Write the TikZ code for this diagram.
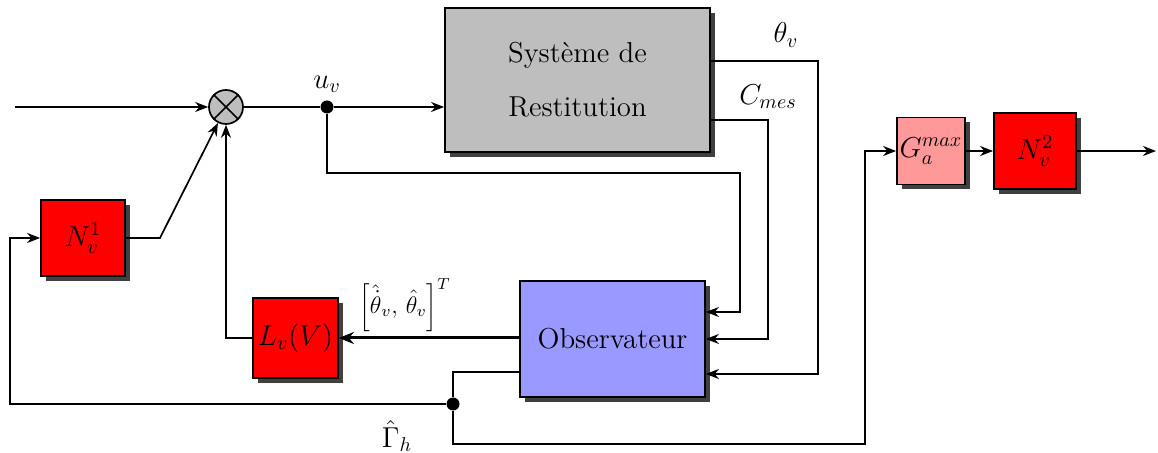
\documentclass[tikz,border=0pt]{standalone}
\usetikzlibrary{arrows.meta,shadows}
\definecolor{sysgray}{RGB}{190,190,190}
\definecolor{obsblue}{RGB}{153,153,255}
\definecolor{pinkred}{RGB}{255,153,153}
\begin{document}
\begin{tikzpicture}[x=0.5pt,y=-0.5pt,
  blk/.style={draw, line width=0.9pt, inner sep=0pt,
    drop shadow={shadow xshift=2.5pt, shadow yshift=-2.5pt, fill=black!75, opacity=1}},
  redblk/.style={blk, fill=red, font=\Large},
  conn/.style={line width=0.85pt},
  arr/.style={conn, -{Stealth[length=6.5pt,width=5pt]}},
  dot/.style={circle, fill, inner sep=0pt, minimum size=6.5pt},
  lbl/.style={font=\Large, inner sep=1pt}]
\useasboundingbox (0,0) rectangle (1158,453);

% blocks
\node[blk, fill=sysgray, minimum width=132.5pt, minimum height=72pt, align=center, font=\Large] (sys) at (577.5,80) {Système de\\[9pt]Restitution};
\node[blk, fill=obsblue, minimum width=92.5pt, minimum height=58pt, font=\Large] (obs) at (612.5,339) {Observateur};
\node[redblk, minimum width=42.5pt, minimum height=40pt] (Lv) at (295.5,338) {$L_v(V)$};
\node[redblk, minimum width=42pt, minimum height=38pt] (N1) at (83,238) {$N_v^1$};
\node[blk, fill=pinkred, font=\Large, minimum width=34pt, minimum height=33.5pt] (Ga) at (931,151) {$G_a^{max}$};
\node[redblk, minimum width=41pt, minimum height=38pt] (N2) at (1035,151) {$N_v^2$};

% multiplier
\node[circle, draw, fill=sysgray, line width=0.85pt, minimum size=17pt, inner sep=0pt] (mult) at (226,107) {};
\draw[conn] (mult.north east) -- (mult.south west) (mult.north west) -- (mult.south east);

% dots
\node[dot] (d1) at (327,107) {};
\node[dot] (d2) at (453,404) {};

% coordinates
\coordinate (in) at (15,107);
\coordinate (th1) at (818,61);
\coordinate (th2) at (818,374);
\coordinate (c1) at (768,120);
\coordinate (c2) at (768,339);
\coordinate (u1) at (327,173);
\coordinate (u2) at (740,173);
\coordinate (u3) at (740,312);
\coordinate (n1) at (160,238);
\coordinate (g0) at (453,372);
\coordinate (g1) at (453,444);
\coordinate (g2) at (865,444);
\coordinate (g3) at (865,151);
\coordinate (f1) at (10,404);
\coordinate (f2) at (10,238);
\coordinate (out) at (1156,151);

% connectors
\draw[arr] (in) -- (mult);
\draw[conn] (mult) -- (d1);
\draw[arr] (d1) -- (d1 -| sys.west);
\draw[arr] (sys.east |- th1) -- (th1) -- (th2) -- (obs.east |- th2);
\draw[arr] (sys.east |- c1) -- (c1) -- (c2) -- (obs.east |- c2);
\draw[arr] (d1) -- (u1) -- (u2) -- (u3) -- (obs.east |- u3);
\draw[line width=1.5pt, -{Stealth[length=7.5pt,width=6pt]}] (obs.west |- Lv.east) -- (Lv.east);
\draw[arr] (Lv.west) -- (Lv.west -| mult) -- (mult.south);
\draw[arr] (N1.east) -- (n1) -- (mult);
\draw[conn] (obs.west |- g0) -- (g0) -- (d2);
\draw[arr] (d2) -- (g1) -- (g2) -- (g3) -- (Ga.west);
\draw[arr] (d2) -- (f1) -- (f2) -- (N1.west);
\draw[arr] (Ga.east) -- (N2.west);
\draw[arr] (N2.east) -- (out);

% labels
\node[lbl] (lu) at (327,84) {$u_v$};
\node[lbl] (lth) at (786,35) {$\theta_v$};
\node[lbl] (lc) at (768,97) {$C_{mes}$};
\node[font=\large, inner sep=1pt] (lob) at (405,305) {$\left[\hat{\dot{\theta}}_v,\,\hat{\theta}_v\right]^T$};
\node[lbl] (lg) at (397,436) {$\hat{\Gamma}_h$};
\end{tikzpicture}
\end{document}
